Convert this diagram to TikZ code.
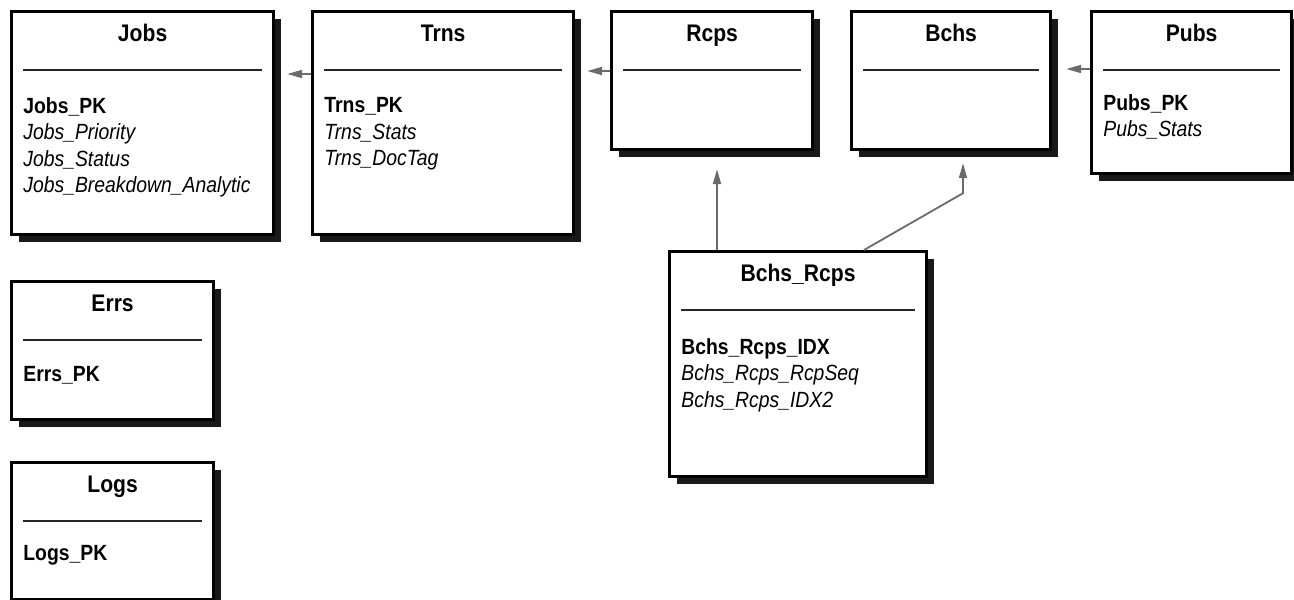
\documentclass[tikz,border=0pt]{standalone}
\usepackage{fontspec}
\setmainfont{Liberation Sans}[FakeStretch=0.88]
\usetikzlibrary{arrows.meta, positioning, calc, shadows}

\begin{document}
\begin{tikzpicture}[x=0.5pt, y=-0.5pt,
  entity/.style={draw=black, line width=1.6pt, fill=white, anchor=north west, inner sep=0pt,
    drop shadow={shadow xshift=3.6pt, shadow yshift=-3.8pt, fill=black!90, opacity=1}},
  ttl/.style={anchor=base, inner sep=0pt, font=\bfseries\fontsize{12}{14}\selectfont},
  fields/.style={anchor=north west, inner sep=0pt, align=left, font=\fontsize{11}{13.25}\selectfont},
  sep/.style={draw=black!85, line width=1.4pt},
  fk/.style={draw=black!58, line width=0.9pt, -{Triangle[length=7.5pt, width=4pt]}, shorten >=6pt},
]
  \path[use as bounding box, fill=white] (0,0) rectangle (1294,599);

  \node[entity, minimum width=131pt, minimum height=111.5pt] (jobs) at (10,10) {};
  \node[entity, minimum width=130.5pt, minimum height=111.5pt] (trns) at (311,10) {};
  \node[entity, minimum width=100.5pt, minimum height=69pt] (rcps) at (610,10) {};
  \node[entity, minimum width=99.5pt, minimum height=69pt] (bchs) at (850,10) {};
  \node[entity, minimum width=100pt, minimum height=81pt] (pubs) at (1090,10) {};
  \node[entity, minimum width=128.5pt, minimum height=112.5pt] (bchsrcps) at (668,250) {};
  \node[entity, minimum width=101pt, minimum height=69pt] (errs) at (10,280) {};
  \node[entity, minimum width=101pt, minimum height=68.5pt] (logs) at (10,461) {};

  \foreach \e/\t in {jobs/Jobs, trns/Trns, rcps/Rcps, bchs/Bchs, pubs/Pubs,
                     bchsrcps/Bchs\_Rcps, errs/Errs, logs/Logs} {
    \node[ttl] (\e-title) at ($(\e.north)+(0,31.5)$) {\t};
    \draw[sep] ($(\e.north west)+(13,60)$) -- ($(\e.north east)+(-13,60)$);
  }

  \node[fields] (jobs-fields) at ($(jobs.north west)+(13,87)$)
    {\textbf{Jobs\_PK}\\ \textit{Jobs\_Priority}\\ \textit{Jobs\_Status}\\ \textit{Jobs\_Breakdown\_Analytic}};
  \node[fields] (trns-fields) at ($(trns.north west)+(13,87)$)
    {\textbf{Trns\_PK}\\ \textit{Trns\_Stats}\\ \textit{Trns\_DocTag}};
  \node[fields] (pubs-fields) at ($(pubs.north west)+(13,84)$)
    {\textbf{Pubs\_PK}\\ \textit{Pubs\_Stats}};
  \node[fields] (bchsrcps-fields) at ($(bchsrcps.north west)+(13,88)$)
    {\textbf{Bchs\_Rcps\_IDX}\\ \textit{Bchs\_Rcps\_RcpSeq}\\ \textit{Bchs\_Rcps\_IDX2}};
  \node[fields] (errs-fields) at ($(errs.north west)+(13,86)$) {\textbf{Errs\_PK}};
  \node[fields] (logs-fields) at ($(logs.north west)+(13,84)$) {\textbf{Logs\_PK}};

  \draw[fk] ($(trns.north west)+(0,64)$) -- ($(jobs.north east)+(0,64)$);
  \draw[fk] ($(rcps.north west)+(0,61)$) -- ($(trns.north east)+(0,61)$);
  \draw[fk, shorten >=7pt] ($(pubs.north west)+(0,59)$) -- ($(bchs.north east)+(0,59)$);

  \coordinate (r1) at ($(bchsrcps.north west)+(49,0)$);
  \draw[fk, shorten >=9pt] (r1) -- (r1 |- rcps.south);
  \coordinate (b1) at ($(bchsrcps.north west)+(196,0)$);
  \coordinate (b2) at ($(bchs.south west)+(113,42)$);
  \draw[fk] (b1) -- (b2) -- (b2 |- bchs.south);
\end{tikzpicture}
\end{document}
